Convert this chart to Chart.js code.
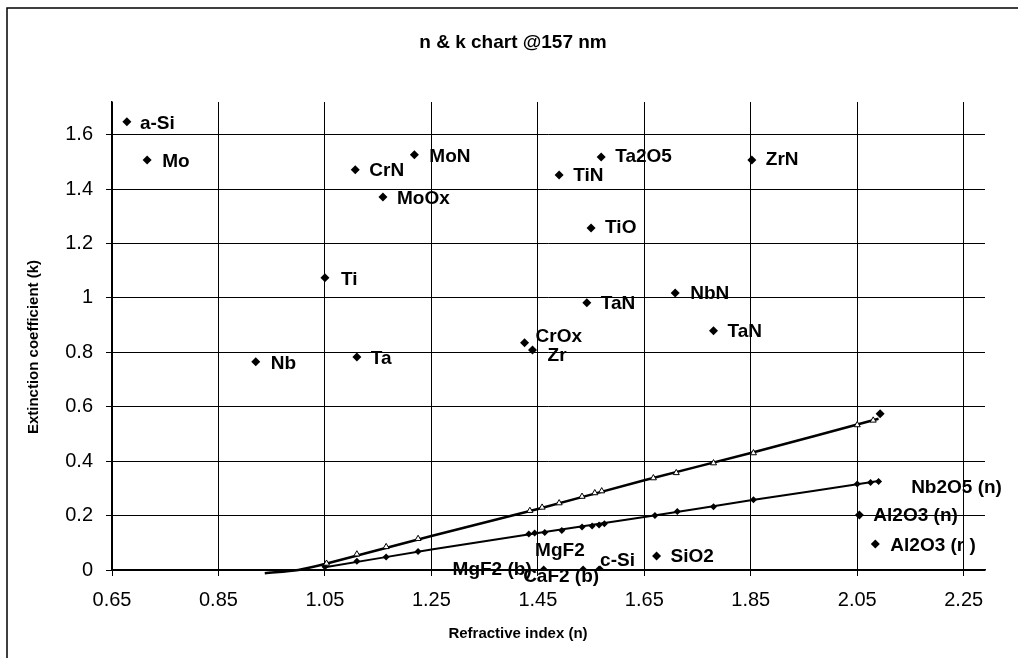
<!DOCTYPE html>
<html>
<head>
<meta charset="utf-8">
<title>n &amp; k chart @157 nm</title>
<script src="https://cdn.jsdelivr.net/npm/chart.js@4.4.1/dist/chart.umd.min.js"></script>
<style>
    html, body { margin: 0; padding: 0; background: #fff; }
    #wrap { width: 1018px; height: 658px; }
</style>
</head>
<body>
<div id="wrap"><canvas id="nkChart" width="1018" height="658"></canvas></div>
<script>
// Named films: refractive index n and extinction coefficient k at 157 nm
const materials = ['a-Si', 'Mo', 'CrN', 'MoN', 'MoOx', 'Ti', 'Ta2O5', 'TiN', 'ZrN', 'TiO',
    'Nb', 'Ta', 'TaN', 'NbN', 'TaN', 'CrOx', 'Zr', 'Nb2O5 (n)', 'Al2O3 (n)', 'Al2O3 (r )',
    'SiO2', 'MgF2 (b)', 'MgF2', 'c-Si', 'CaF2 (b)'];
const matN = [0.678, 0.716, 1.107, 1.218, 1.159, 1.05, 1.569, 1.49, 1.852, 1.55,
    0.92, 1.11, 1.542, 1.708, 1.78, 1.425, 1.44, 2.093, 2.054, 2.084,
    1.673, 1.461, 1.535, 1.565, 1.567];
const matK = [1.647, 1.507, 1.471, 1.526, 1.371, 1.074, 1.518, 1.452, 1.507, 1.257,
    0.765, 0.783, 0.982, 1.018, 0.879, 0.835, 0.809, 0.574, 0.202, 0.096,
    0.051, 0, 0, 0, 0];

// Upper film series (open triangles)
const upperN = [1.053, 1.11, 1.165, 1.225, 1.435, 1.458, 1.49, 1.533, 1.557, 1.57,
    1.667, 1.71, 1.78, 1.855, 2.05, 2.08];
const upperK = [0.024, 0.058, 0.085, 0.115, 0.218, 0.23, 0.246, 0.27, 0.283, 0.29,
    0.338, 0.357, 0.393, 0.43, 0.533, 0.55];

// Lower film series (filled diamonds)
const lowerN = [1.05, 1.11, 1.165, 1.225, 1.433, 1.444, 1.463, 1.495, 1.533, 1.552,
    1.565, 1.575, 1.67, 1.712, 1.78, 1.855, 2.05, 2.075, 2.09];
const lowerK = [0.012, 0.032, 0.048, 0.068, 0.132, 0.136, 0.138, 0.145, 0.158, 0.162,
    0.165, 0.17, 0.2, 0.215, 0.232, 0.258, 0.316, 0.322, 0.325];

// Fitted trend lines through the two series
const upperTrendN = [0.937, 1.0, 1.05, 1.25, 1.45, 1.65, 1.85, 2.09];
const upperTrendK = [-0.012, 0, 0.022, 0.125, 0.224, 0.33, 0.43, 0.556];
const lowerTrendN = [1.05, 1.25, 1.45, 1.65, 1.85, 2.09];
const lowerTrendK = [0.01, 0.075, 0.136, 0.195, 0.256, 0.327];

// Axis ticks
const xTicks = [0.65, 0.85, 1.05, 1.25, 1.45, 1.65, 1.85, 2.05, 2.25];
const yTicks = [0, 0.2, 0.4, 0.6, 0.8, 1, 1.2, 1.4, 1.6];

// Where each material name sits relative to its marker: [dx, dy]
// (a small negative dx puts the name to the left, right-aligned)
const labelOffsets = [[13, 2], [15, 2], [14, 1], [15, 2], [14, 2], [16, 2], [14, 0], [14, 1], [14, 0], [14, 0],
    [15, 2], [14, 2], [14, 1], [15, 1], [14, 1], [11, -6], [15, 6], [31, 74], [14, 1], [15, 2],
    [14, 1], [-12, 0], [-48, -19], [1, -9], [-1, 7]];

const toPoints = (xs, ys) => xs.map((x, i) => ({ x: x, y: ys[i] }));

const FONT = "'Liberation Sans', Arial, sans-serif";

// White page with the frame edges
const framePlugin = {
    id: 'frame',
    beforeDraw(chart) {
        const ctx = chart.ctx;
        ctx.save();
        ctx.fillStyle = '#fff';
        ctx.fillRect(0, 0, chart.width, chart.height);
        ctx.strokeStyle = '#000';
        ctx.lineWidth = 1.5;
        ctx.beginPath();
        ctx.moveTo(7, chart.height);
        ctx.lineTo(7, 8);
        ctx.lineTo(chart.width, 8);
        ctx.stroke();
        ctx.restore();
    }
};

// Material names beside their markers
const pointLabelPlugin = {
    id: 'pointLabels',
    afterDatasetsDraw(chart) {
        const ctx = chart.ctx;
        const meta = chart.getDatasetMeta(0);
        ctx.save();
        ctx.fillStyle = '#000';
        ctx.font = 'bold 19px ' + FONT;
        ctx.textBaseline = 'middle';
        meta.data.forEach((pt, i) => {
            const [dx, dy] = labelOffsets[i];
            ctx.textAlign = dx < 0 && dx > -20 ? 'right' : 'left';
            ctx.fillText(materials[i], pt.x + dx, pt.y + dy);
        });
        ctx.restore();
    }
};

// Chart title and axis titles, centred on the whole page
const titlesPlugin = {
    id: 'titles',
    afterDraw(chart) {
        const ctx = chart.ctx;
        ctx.save();
        ctx.fillStyle = '#000';
        ctx.textAlign = 'center';
        ctx.textBaseline = 'middle';
        ctx.font = 'bold 19px ' + FONT;
        ctx.fillText('n & k chart @157 nm', 513, 43);
        ctx.font = 'bold 15px ' + FONT;
        ctx.fillText('Refractive index (n)', 518, 634);
        ctx.translate(34, 347);
        ctx.rotate(-Math.PI / 2);
        ctx.fillText('Extinction coefficient (k)', 0, 0);
        ctx.restore();
    }
};

const ctx = document.getElementById('nkChart');

new Chart(ctx, {
    type: 'scatter',
    data: {
        datasets: [
            {
                label: 'Materials',
                data: toPoints(matN, matK),
                pointStyle: 'rectRot',
                pointRadius: 4.5,
                backgroundColor: '#000',
                borderColor: '#000',
                borderWidth: 0
            },
            {
                label: 'Upper series',
                data: toPoints(upperN, upperK),
                pointStyle: 'triangle',
                pointRadius: 3.5,
                backgroundColor: '#fff',
                borderColor: '#000',
                borderWidth: 1
            },
            {
                label: 'Lower series',
                data: toPoints(lowerN, lowerK),
                pointStyle: 'rectRot',
                pointRadius: 3.5,
                backgroundColor: '#000',
                borderColor: '#000',
                borderWidth: 0
            },
            {
                label: 'Upper trend',
                data: toPoints(upperTrendN, upperTrendK),
                showLine: true,
                pointRadius: 0,
                borderColor: '#000',
                borderWidth: 2.5,
                tension: 0.3,
                clip: 10
            },
            {
                label: 'Lower trend',
                data: toPoints(lowerTrendN, lowerTrendK),
                showLine: true,
                pointRadius: 0,
                borderColor: '#000',
                borderWidth: 2,
                tension: 0.3
            }
        ]
    },
    options: {
        responsive: false,
        animation: false,
        devicePixelRatio: 1,
        layout: {
            padding: { left: 0, right: 33, top: 102, bottom: 0 }
        },
        plugins: {
            legend: { display: false },
            tooltip: { enabled: false },
            title: { display: false }
        },
        scales: {
            x: {
                type: 'linear',
                min: 0.65,
                max: 2.29,
                afterBuildTicks: (scale) => {
                    scale.ticks = xTicks.map(v => ({ value: v }));
                },
                afterFit: (scale) => {
                    scale.height = 88;
                },
                ticks: {
                    color: '#000',
                    font: { family: FONT, size: 20 },
                    padding: 12,
                    maxRotation: 0,
                    callback: (v) => Number(v).toFixed(2)
                },
                grid: {
                    color: '#000',
                    lineWidth: 1,
                    tickLength: 6
                },
                border: { color: '#000', width: 1.5 }
            },
            y: {
                type: 'linear',
                min: 0,
                max: 1.72,
                afterBuildTicks: (scale) => {
                    scale.ticks = yTicks.map(v => ({ value: v }));
                },
                afterFit: (scale) => {
                    scale.width = 112;
                },
                ticks: {
                    color: '#000',
                    font: { family: FONT, size: 20 },
                    padding: 13,
                    callback: (v) => String(v)
                },
                grid: {
                    color: '#000',
                    lineWidth: 1,
                    tickLength: 6
                },
                border: { color: '#000', width: 1.5 }
            }
        }
    },
    plugins: [framePlugin, pointLabelPlugin, titlesPlugin]
});
</script>
</body>
</html>
